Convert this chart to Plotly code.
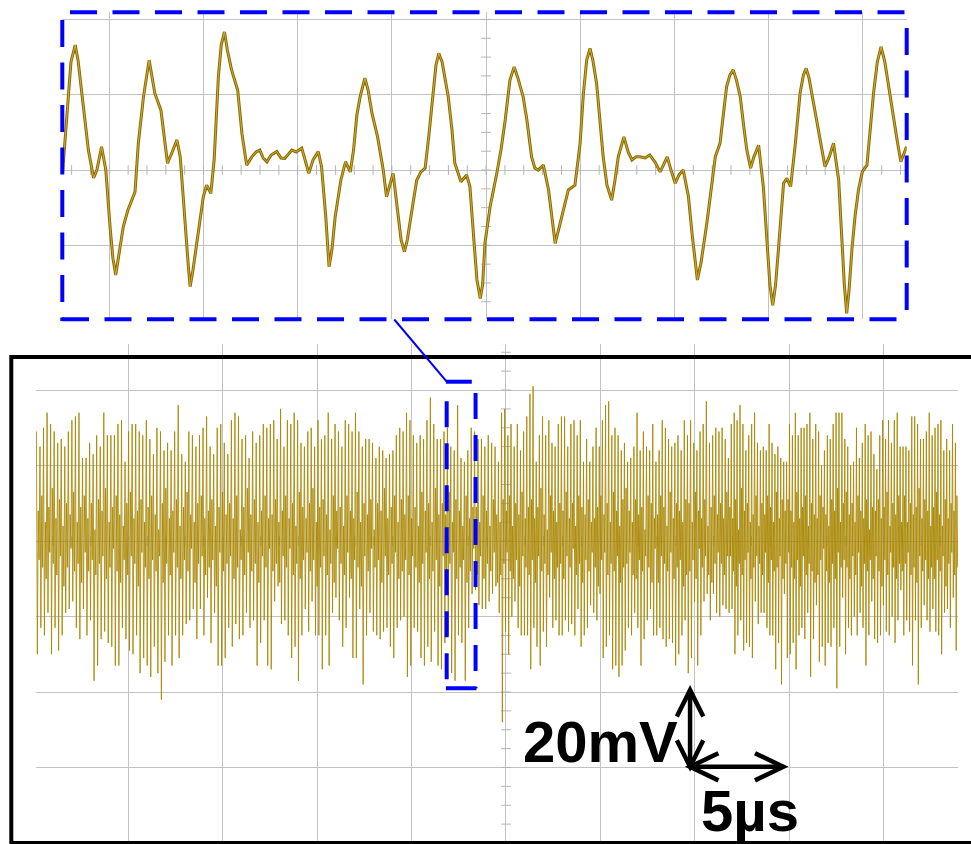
import numpy as np
import plotly.graph_objects as go

W, H = 971, 844

# ---------------- main capture: 5 us/div, 20 mV/div ----------------
# The long record is split into four stretches; each stretch holds the
# spike maxima and minima (mV) in time order, plus the small excursions
# (pairs of +/- values) that fill the band around zero.
seg_edges_us = [-24.89, -12.50, -0.42, 11.76, 23.94]

peaks_a = [29, 25, 30, 34, 31, 29, 26, 27, 25, 29, 32, 33, 34, 22, 22, 26, 23, 28, 25, 34,
           28, 28, 28, 31, 32, 21, 29, 31, 31, 29, 28, 32, 27, 23, 30, 29, 24, 26, 24, 29,
           36, 23, 21, 29, 28, 25, 28, 30, 33, 25, 23, 30, 31, 26, 23, 32, 34, 33, 27, 28,
           22, 29, 26, 28, 31, 30]
troughs_a = [-30, -23, -25, -19, -30, -23, -29, -25, -19, -18, -16, -23, -26, -18, -25, -21, -37,
             -33, -26, -24, -27, -28, -33, -33, -23, -26, -29, -30, -25, -35, -31, -33, -36,
             -28, -35, -42, -32, -25, -33, -25, -31, -25, -22, -21, -18, -26, -18, -25, -15,
             -27, -19, -33, -33, -31, -23, -28, -22, -26, -25, -19, -23, -21, -33, -27, -21, -33]
band_a = [8, -5, 12, -7, 5, -10, 9, -3, 14, -6, 6, -9, 11, -4, 4, -12, 10, -7, 7, -2,
          13, -8, 5, -6, 9, -11, 12, -3, 6, -8, 10, -5, 3, -9, 11, -6, 8, -4, 14, -10,
          5, -7, 9, -2, 12, -8, 7, -11, 4, -5, 10, -9, 13, -4, 6, -6, 8, -12, 11, -3,
          5, -7, 9, -10, 12, -5, 7, -8, 3, -4, 10, -11, 14, -6, 6, -9, 8, -3, 11, -7,
          4, -10, 9, -5, 13, -8, 7, -2, 5, -11, 10, -6, 12, -4, 6, -9, 8, -7, 11, -5,
          4, -12, 9, -3, 13, -8, 7, -6, 10, -4, 6, -10, 12, -7, 3, -5, 9, -9, 14, -3,
          7, -8, 11, -6, 5, -11, 8, -4, 12, -7, 6, -2]

peaks_b = [31, 32, 27, 35, 25, 32, 31, 34, 32, 26, 25, 29, 30, 25, 32, 27, 28, 34, 27, 31,
           29, 25, 32, 31, 29, 34, 29, 25, 27, 27, 26, 22, 25, 24, 22, 23, 24, 28, 30, 29,
           34, 32, 28, 26, 28, 27, 32, 38, 31, 27, 27, 29, 30, 25, 24, 36, 22, 21, 24, 30,
           29, 27, 27, 25, 28, 26, 25]
troughs_b = [-34, -16, -12, -22, -21, -25, -31, -28, -37, -25, -18, -24, -16, -25, -25, -34, -25,
             -33, -19, -15, -21, -28, -23, -15, -31, -31, -18, -38, -25, -19, -24, -25, -26,
             -24, -23, -28, -31, -23, -21, -20, -36, -33, -23, -24, -31, -33, -28, -32, -24,
             -33, -34, -27, -25, -35, -37, -25, -27, -37, -23, -14, -13, -17, -18, -18, -16,
             -14, -12]
band_b = [7, -8, 11, -6, 5, -11, 8, -4, 12, -7, 6, -2, 10, -9, 4, -6, 13, -10, 9, -5,
          6, -3, 10, -8, 14, -5, 5, -12, 9, -7, 11, -4, 7, -9, 3, -6, 12, -11, 8, -2,
          9, -6, 4, -9, 12, -3, 8, -10, 6, -5, 13, -7, 5, -12, 10, -4, 7, -8, 11, -2,
          3, -7, 10, -5, 8, -11, 14, -4, 6, -9, 9, -6, 12, -3, 5, -10, 11, -8, 7, -5,
          12, -9, 6, -4, 9, -7, 4, -11, 13, -6, 8, -3, 10, -10, 5, -8, 14, -5, 7, -12,
          10, -4, 7, -9, 13, -6, 5, -3, 11, -10, 8, -7, 4, -5, 12, -11, 6, -8, 9, -2,
          9, -9, 5, -4, 12, -10, 8, -6, 4, -8, 11, -3, 7, -11]

peaks_c = [21, 34, 35, 28, 31, 25, 31, 24, 29, 33, 39, 41, 21, 28, 33, 28, 32, 26, 25, 31,
           33, 33, 25, 31, 32, 28, 32, 21, 27, 21, 25, 30, 25, 32, 36, 37, 28, 30, 28, 24,
           26, 21, 22, 25, 34, 24, 29, 25, 24, 31, 21, 24, 32, 30, 27, 25, 26, 28, 24, 32,
           28, 32, 26, 24, 29, 31, 37, 26, 28, 30, 29, 30, 27]
troughs_c = [-19, -48, -24, -30, -20, -16, -23, -25, -25, -25, -34, -23, -28, -33, -24, -28, -15,
             -23, -21, -25, -25, -21, -24, -22, -25, -18, -28, -25, -23, -17, -19, -21, -14,
             -31, -28, -25, -34, -33, -36, -33, -29, -23, -25, -19, -23, -33, -26, -21, -18,
             -25, -25, -23, -26, -28, -26, -27, -33, -30, -25, -21, -35, -31, -16, -33, -25,
             -16, -14, -21, -14, -19, -20, -17, -18]
band_c = [5, -9, 11, -6, 8, -3, 12, -8, 4, -10, 10, -5, 7, -12, 13, -4, 6, -7, 9, -9,
          11, -5, 6, -11, 9, -4, 14, -8, 7, -6, 3, -9, 12, -3, 8, -10, 5, -7, 10, -6,
          8, -10, 13, -4, 6, -7, 10, -2, 4, -9, 12, -6, 9, -11, 7, -5, 11, -8, 5, -3,
          6, -7, 9, -12, 12, -5, 7, -3, 10, -9, 5, -6, 13, -8, 8, -4, 4, -11, 11, -7,
          14, -6, 8, -3, 5, -9, 11, -10, 7, -5, 9, -8, 3, -4, 12, -7, 10, -11, 6, -2,
          7, -11, 12, -4, 9, -6, 4, -8, 13, -3, 6, -10, 10, -7, 8, -5, 5, -12, 11, -9,
          10, -8, 5, -5, 13, -10, 8, -2, 6, -7, 11, -4, 4, -9, 9, -11, 12, -6, 7, -3,
          10, -6, 6, -9, 13, -4]

peaks_d = [22, 31, 34, 32, 36, 31, 24, 28, 31, 34, 26, 24, 25, 24, 31, 26, 23, 25, 22, 21,
           21, 31, 28, 34, 28, 30, 30, 31, 34, 27, 31, 29, 20, 24, 28, 27, 31, 34, 34, 34,
           27, 25, 20, 21, 30, 22, 26, 31, 28, 29, 23, 19, 28, 32, 27, 32, 26, 32, 34, 25,
           25, 25, 24, 33, 33, 31, 27, 27, 29, 34, 28, 30, 31, 32, 24, 27, 24, 31, 26]
troughs_d = [-19, -18, -30, -25, -21, -29, -27, -28, -31, -16, -22, -19, -19, -23, -25, -25, -34,
             -27, -38, -14, -31, -30, -27, -34, -25, -23, -26, -19, -36, -26, -17, -32, -28,
             -33, -27, -28, -23, -39, -28, -15, -30, -23, -25, -20, -25, -19, -23, -33, -25,
             -16, -26, -27, -25, -17, -24, -25, -20, -27, -21, -13, -25, -21, -24, -33, -21,
             -38, -23, -17, -21, -24, -18, -24, -25, -30, -19, -18, -23, -15, -29]
band_d = [9, -4, 6, -8, 11, -12, 3, -6, 14, -9, 8, -5, 10, -3, 5, -10, 7, -7, 12, -4,
          4, -6, 10, -9, 7, -3, 12, -11, 9, -5, 5, -8, 13, -7, 6, -4, 11, -10, 8, -6,
          11, -3, 8, -7, 5, -10, 13, -5, 6, -12, 9, -4, 12, -9, 4, -6, 10, -8, 7, -11,
          6, -9, 12, -5, 9, -2, 7, -8, 4, -11, 11, -6, 8, -10, 14, -3, 5, -7, 10, -5,
          13, -7, 7, -10, 10, -4, 5, -9, 12, -3, 8, -12, 6, -6, 11, -8, 3, -5, 9, -10,
          8, -4, 11, -8, 6, -12, 9, -5, 13, -9, 4, -3, 10, -7, 7, -10, 12, -6, 5, -8,
          12, -6, 5, -3, 10, -9, 7, -7, 9, -11, 14, -4, 6, -8, 11, -5, 8, -10, 4, -7,
          9, -10, 13, -5, 7, -8, 4, -4, 11, -12, 6, -6, 10, -3, 8, -9, 12, -7]

# ---------------- zoomed window (ns, mV) ----------------
inset_t_ns = [1, 6, 13, 19, 28, 34, 42, 49, 56, 67,
              74, 84, 93, 102, 108, 114, 121, 130, 140, 155,
              162, 173, 185, 197, 210, 217, 224, 234, 244, 251,
              261, 268, 272, 278, 286, 300, 307, 316, 323, 332,
              338, 345, 351, 360, 373, 382, 392, 403, 412, 420,
              427, 435, 444, 456, 465, 473, 488, 497, 509, 516,
              524, 533, 544, 551, 560, 567, 573, 580, 592, 602,
              612, 619, 626, 633, 643, 650, 658, 670, 682, 689,
              696, 703, 714, 720, 727, 733, 743, 753, 762, 771,
              779, 788, 794, 800, 807, 820, 828, 834, 847, 859,
              866, 875, 881, 888, 893, 898, 909, 923, 932, 941,
              951, 960, 968, 979, 987, 997, 1004, 1011, 1022, 1033,
              1040, 1047, 1053, 1061, 1075, 1089, 1100, 1107, 1114, 1121,
              1127, 1135, 1142, 1149, 1157, 1167, 1174, 1181, 1193, 1202,
              1210, 1219, 1227, 1238, 1248, 1259, 1270, 1285, 1293, 1302,
              1310, 1319, 1330, 1338, 1349, 1357, 1369, 1378, 1387, 1397,
              1405, 1411, 1418, 1425, 1432, 1440, 1447, 1454, 1462, 1469,
              1479, 1483, 1489, 1498, 1503, 1509, 1515, 1521, 1532, 1539,
              1547, 1557, 1567, 1574, 1580, 1586, 1592, 1603, 1612, 1620,
              1629, 1638, 1649, 1656, 1661, 1666, 1671, 1677, 1684, 1691,
              1699, 1709, 1716, 1723, 1731, 1739, 1747, 1755, 1765, 1773,
              1781, 1793]
inset_mv = [-1, 8, 20.5, 28.7, 33.2, 29.2, 20.5, 12, 5.3, -2.1,
            0, 6.2, 0, -15.1, -23.4, -27.9, -22.6, -15.1, -10.6, -5.8,
            7.1, 19.5, 29.2, 20.4, 15.9, 9.3, 1.8, 4.8, 8, 3.5,
            -15.1, -25.2, -31, -26.6, -19.5, -7.1, -4, -6.2, 2.7, 24.8,
            33.2, 36.7, 31.9, 26.6, 21.2, 9.7, 1.3, 3.5, 4.8, 5.3,
            3.2, 2.2, 4, 4.9, 3.2, 3.1, 5.3, 4.8, 5.8, 2.7,
            -0.9, 2.7, 4.9, 0.9, -12.4, -25.7, -21.2, -12.4, -2.7, 2.2,
            -0.5, 5.3, 14.6, 19.5, 24.4, 21.2, 15.1, 8.8, 0, -7.1,
            -4, -0.9, -12.4, -18.6, -21.7, -18.6, -10.6, -2.7, -0.5, 0.5,
            9.3, 20.4, 27.9, 31, 28.7, 19.5, 10.6, 1.8, -3.1, -1.3,
            -4.4, -19.5, -29.2, -34.1, -30.5, -19.4, -9.7, -0.9, 5.3, 13.3,
            23.9, 27.4, 24.4, 19.5, 13.3, 3.5, 0.5, 0, 1.3, -5.3,
            -13.3, -19.5, -16.5, -12.4, -5.3, -4, 7.1, 20.4, 29.2, 32.3,
            29.2, 23, 13.3, 3.5, -4, -8, -2.7, 3.5, 8.8, 4.8,
            2.7, 3.5, 3.5, 3.2, 4, 2.1, -0.5, 3.5, 0, -3.5,
            -1.3, 0, -7.1, -17.3, -29.2, -24.4, -14.2, -5.3, 3.5, 7.1,
            15.9, 22.1, 25.2, 26.6, 23.9, 19.5, 12, 5.3, 0.5, 3.5,
            6.6, 2.7, -4.4, -21.2, -30.5, -35.9, -30.5, -21.2, -3.5, -2.2,
            -4.4, 7.1, 20.4, 25.2, 27, 24.4, 20.4, 13.3, 6.6, 0.9,
            3.5, 7.1, -2.7, -19.5, -30.5, -38.1, -31.9, -21.2, -12, -5.3,
            -0.5, 1.3, 10.6, 20.4, 28.7, 32.7, 28.7, 22.1, 15.1, 8,
            2.2, 6.2]

# axis windows
main_x_range = [-24.89, 23.94]      # us
main_y_range = [-80.26, 52.19]      # mV
inset_x_range = [0.6, 1793.4]       # ns
inset_y_range = [-39.65, 41.9]      # mV

# zoom marker (the window shown enlarged) in main-axis units
zoom_t = [-3.14, -1.61]
zoom_mv = [-39.0, 42.2]

# scale bar: one division each way
bar_t0, bar_t1 = 9.75, 14.69
bar_v0, bar_v1 = -59.8, -39.5

GRID = "#c2c2c2"
TRACE = "#a88500"
BLUE = "#0000ff"


def px(x):
    return x / W


def py(y):
    return 1 - y / H


# ---- assemble the long record: peak, trough, then a small +/- wiggle ----
peaks = [peaks_a, peaks_b, peaks_c, peaks_d]
troughs = [troughs_a, troughs_b, troughs_c, troughs_d]
bands = [band_a, band_b, band_c, band_d]
t_main, v_main = [], []
for i, (pk, tr, bd) in enumerate(zip(peaks, troughs, bands)):
    n = len(pk)
    assert len(tr) == n and len(bd) == 2 * n
    t0, t1 = seg_edges_us[i], seg_edges_us[i + 1]
    vals = np.empty(4 * n)
    vals[0::4] = pk
    vals[1::4] = tr
    vals[2::4] = bd[0::2]
    vals[3::4] = bd[1::2]
    step = (t1 - t0) / (4 * n)
    ts = t0 + step * (np.arange(4 * n) + 0.5)
    t_main.extend(ts.tolist())
    v_main.extend(vals.tolist())

fig = go.Figure()

# minor ticks along the centre cross of each screen
tick_style = dict(color="#b4b4b4", width=1)
tick_v = np.arange(-80, 52, 5)
tick_t = np.arange(-24, 24, 1)
fig.add_trace(go.Scatter(x=[0] * len(tick_v), y=tick_v, mode="markers",
                         marker=dict(symbol="line-ew", size=7, line=tick_style),
                         hoverinfo="skip", xaxis="x", yaxis="y"))
fig.add_trace(go.Scatter(x=tick_t, y=[0] * len(tick_t), mode="markers",
                         marker=dict(symbol="line-ns", size=7, line=tick_style),
                         hoverinfo="skip", xaxis="x", yaxis="y"))

fig.add_trace(go.Scatter(x=t_main, y=v_main, mode="lines",
                         line=dict(color=TRACE, width=0.85),
                         hoverinfo="skip", xaxis="x", yaxis="y"))

itick_v = np.arange(-35, 41, 5)
itick_t = np.arange(20.4, 1794, 40)
fig.add_trace(go.Scatter(x=[900.2] * len(itick_v), y=itick_v, mode="markers",
                         marker=dict(symbol="line-ew", size=7, line=tick_style),
                         hoverinfo="skip", xaxis="x2", yaxis="y2"))
fig.add_trace(go.Scatter(x=itick_t, y=[0] * len(itick_t), mode="markers",
                         marker=dict(symbol="line-ns", size=7, line=tick_style),
                         hoverinfo="skip", xaxis="x2", yaxis="y2"))

fig.add_trace(go.Scatter(x=inset_t_ns, y=inset_mv, mode="lines",
                         line=dict(color="#8a6a00", width=3),
                         hoverinfo="skip", xaxis="x2", yaxis="y2"))
fig.add_trace(go.Scatter(x=inset_t_ns, y=inset_mv, mode="lines",
                         line=dict(color="#cfae38", width=1),
                         hoverinfo="skip", xaxis="x2", yaxis="y2"))

ax_common = dict(showgrid=True, gridcolor=GRID, gridwidth=1, zeroline=False,
                 showticklabels=False, ticks="", showline=False, fixedrange=True)

fig.update_layout(
    width=W, height=H,
    margin=dict(l=0, r=0, t=0, b=0),
    paper_bgcolor="white", plot_bgcolor="white",
    showlegend=False,
    xaxis=dict(domain=[px(36), px(958)], range=main_x_range, tick0=0, dtick=5,
               anchor="y", **ax_common),
    yaxis=dict(domain=[0, py(344)], range=main_y_range, tick0=0, dtick=20,
               anchor="x", **ax_common),
    xaxis2=dict(domain=[px(62.3), px(906.7)], range=inset_x_range, tick0=100.4, dtick=200,
                anchor="y2", **ax_common),
    yaxis2=dict(domain=[py(319.3), py(12.3)], range=inset_y_range, tick0=0, dtick=20,
                anchor="x2", **ax_common),
)

shapes = []
# black frame around the long record
shapes.append(dict(type="rect", xref="paper", yref="paper",
                   x0=px(11.3), x1=px(985), y0=py(843), y1=py(357),
                   line=dict(color="black", width=4), fillcolor="rgba(0,0,0,0)"))

# dashed frame around the enlarged view
dash_big = "27px,15.5px"
for x0, y0, x1, y1 in [(70, 12.3, 907, 12.3), (62, 319.3, 907, 319.3),
                       (62.3, 20, 62.3, 321), (906.7, 28, 906.7, 321)]:
    shapes.append(dict(type="line", xref="paper", yref="paper",
                       x0=px(x0), y0=py(y0), x1=px(x1), y1=py(y1),
                       line=dict(color=BLUE, width=4, dash=dash_big)))

# small dashed window on the long record
dash_small = "26px,16px"
shapes += [
    dict(type="line", xref="x", yref="y", x0=zoom_t[0], x1=zoom_t[0],
         y0=zoom_mv[1] - 5.2, y1=zoom_mv[0], line=dict(color=BLUE, width=4, dash=dash_small)),
    dict(type="line", xref="x", yref="y", x0=zoom_t[1], x1=zoom_t[1],
         y0=zoom_mv[1] - 3.0, y1=zoom_mv[0], line=dict(color=BLUE, width=4, dash=dash_small)),
    dict(type="line", xref="x", yref="y", x0=zoom_t[0] - 0.04, x1=zoom_t[1] - 0.2,
         y0=zoom_mv[1], y1=zoom_mv[1], line=dict(color=BLUE, width=4)),
    dict(type="line", xref="x", yref="y", x0=zoom_t[0] - 0.04, x1=zoom_t[1] + 0.05,
         y0=zoom_mv[0], y1=zoom_mv[0], line=dict(color=BLUE, width=4)),
]
# connector from the enlarged view down to the window
shapes.append(dict(type="line", xref="paper", yref="paper",
                   x0=px(394.3), y0=py(319.5), x1=px(446.7), y1=py(381.7),
                   line=dict(color=BLUE, width=2)))

# scale bar arrows
arm_dt, arm_dv = 0.7, 7.0
hd_dt, hd_dv = 1.5, 3.6
bar = dict(color="black", width=4.5)
shapes += [
    dict(type="line", xref="x", yref="y", x0=bar_t0, x1=bar_t0, y0=bar_v0, y1=bar_v1, line=bar),
    dict(type="line", xref="x", yref="y", x0=bar_t0, x1=bar_t1, y0=bar_v0, y1=bar_v0, line=bar),
    dict(type="path", xref="x", yref="y", line=bar,
         path=f"M{bar_t0 - arm_dt},{bar_v1 - arm_dv} L{bar_t0},{bar_v1} L{bar_t0 + arm_dt},{bar_v1 - arm_dv}"),
    dict(type="path", xref="x", yref="y", line=bar,
         path=f"M{bar_t0 - arm_dt},{bar_v0 + arm_dv} L{bar_t0},{bar_v0} L{bar_t0 + arm_dt},{bar_v0 + arm_dv}"),
    dict(type="path", xref="x", yref="y", line=bar,
         path=f"M{bar_t0 + hd_dt},{bar_v0 + hd_dv} L{bar_t0},{bar_v0} L{bar_t0 + hd_dt},{bar_v0 - hd_dv}"),
    dict(type="path", xref="x", yref="y", line=bar,
         path=f"M{bar_t1 - hd_dt},{bar_v0 + hd_dv} L{bar_t1},{bar_v0} L{bar_t1 - hd_dt},{bar_v0 - hd_dv}"),
]
fig.update_layout(shapes=shapes)

label_font = dict(family="Liberation Sans, Arial", size=58, color="black")
fig.add_annotation(xref="paper", yref="paper", x=px(521), y=py(741), xanchor="left",
                   yanchor="middle", text="<b>20mV</b>", showarrow=False, font=label_font)
fig.add_annotation(xref="paper", yref="paper", x=px(699), y=py(810), xanchor="left",
                   yanchor="middle", text="<b>5µs</b>", showarrow=False, font=label_font)

fig.write_html("out.html", config={"displayModeBar": False})
